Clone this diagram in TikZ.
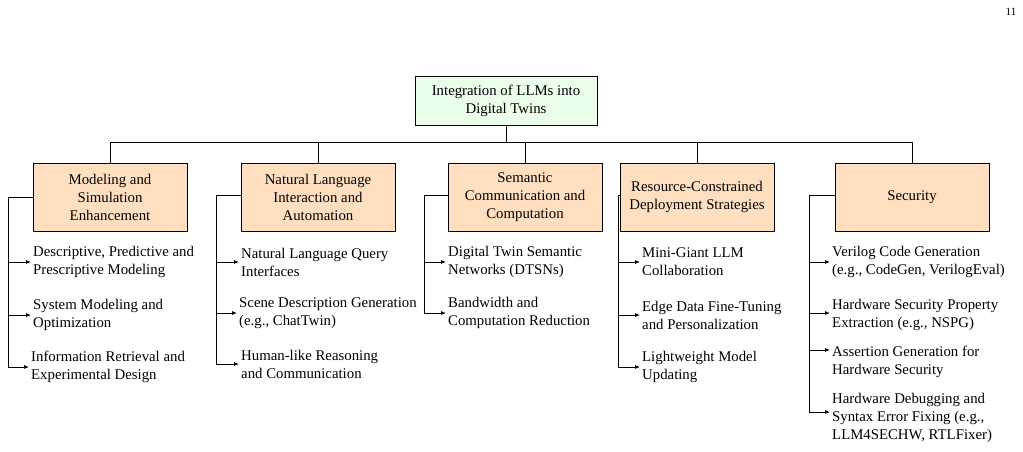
\documentclass[tikz,border=0pt]{standalone}
\usepackage{fontspec}
\setmainfont{Liberation Serif}
\usetikzlibrary{arrows.meta}
\begin{document}
\begin{tikzpicture}[x=1pt,y=-1pt,
  font=\fontsize{14.8}{18}\selectfont,
  rootbox/.style={draw,thick,fill=green!8!white,minimum width=182,minimum height=49,align=center,inner sep=1},
  catbox/.style={draw,thick,fill=orange!25!white,minimum width=154,minimum height=68,align=center,inner sep=1},
  item/.style={anchor=west,align=left,inner xsep=2,inner ysep=0},
  link/.style={thick},
  arr/.style={thick,-{Latex[length=5pt,width=4pt]}}]
  % Frame
  \useasboundingbox (0,0) rectangle (1023,451);
  \node (pnum) at (1011,12) {\fontsize{11}{12}\selectfont 11};

  % Root
  \node[rootbox] (root) at (506,101) {Integration of LLMs into\\Digital Twins};

  % Categories
  \node[catbox] (c1) at (110,197) {Modeling and\\Simulation\\Enhancement};
  \node[catbox] (c2) at (318,197) {Natural Language\\Interaction and\\Automation};
  \node[catbox] (c3) at (525,197) {Semantic\\Communication and\\Computation};
  \node[catbox] (c4) at (697,197) {Resource-Constrained\\Deployment Strategies};
  \node[catbox] (c5) at (912,197) {Security};

  % Bus
  \coordinate (bus) at (506,142);
  \draw[link] (root.south) -- (bus);
  \foreach \c in {c1,c2,c3,c4,c5}
    \draw[link] (bus) -| (\c.north);

  % Trunks
  \coordinate (t1) at (8,197);
  \coordinate (t2) at (216,195);
  \coordinate (t3) at (424,195);
  \coordinate (t4) at (618,195);
  \coordinate (t5) at (809,195);
  \foreach \i in {1,...,5}
    \draw[link] (c\i.west |- t\i) -- (t\i);

  % Items
  \node[item] (i11) at (31,262) {Descriptive, Predictive and\\Prescriptive Modeling};
  \node[item] (i12) at (31,315) {System Modeling and\\Optimization};
  \node[item] (i13) at (29,367) {Information Retrieval and\\Experimental Design};

  \node[item] (i21) at (239,262) {Natural Language Query\\Interfaces};
  \node[item] (i22) at (237,313) {Scene Description Generation\\(e.g., ChatTwin)};
  \node[item] (i23) at (239,364) {Human-like Reasoning\\and Communication};

  \node[item] (i31) at (446,262) {Digital Twin Semantic\\Networks (DTSNs)};
  \node[item] (i32) at (446,313) {Bandwidth and\\Computation Reduction};

  \node[item] (i41) at (640,262) {Mini-Giant LLM\\Collaboration};
  \node[item] (i42) at (640,315) {Edge Data Fine-Tuning\\and Personalization};
  \node[item] (i43) at (640,367) {Lightweight Model\\Updating};

  \node[item] (i51) at (830,262) {Verilog Code Generation\\(e.g., CodeGen, VerilogEval)};
  \node[item] (i52) at (830,315) {Hardware Security Property\\Extraction (e.g., NSPG)};
  \node[item] (i53) at (830,362) {Assertion Generation for\\Hardware Security};
  \node[item] (i54) at (830,418) {Hardware Debugging and\\Syntax Error Fixing (e.g.,\\LLM4SECHW, RTLFixer)};

  % Connectors
  \foreach \c/\n in {1/3,2/3,3/2,4/3}
    \foreach \j in {1,...,\n}
      \draw[arr] (t\c) |- (i\c\j.west);
  \foreach \j/\d in {1/0,2/2,3/12,4/6}
    \draw[arr] (t5) |- ([yshift=\d]i5\j.west);
\end{tikzpicture}
\end{document}
